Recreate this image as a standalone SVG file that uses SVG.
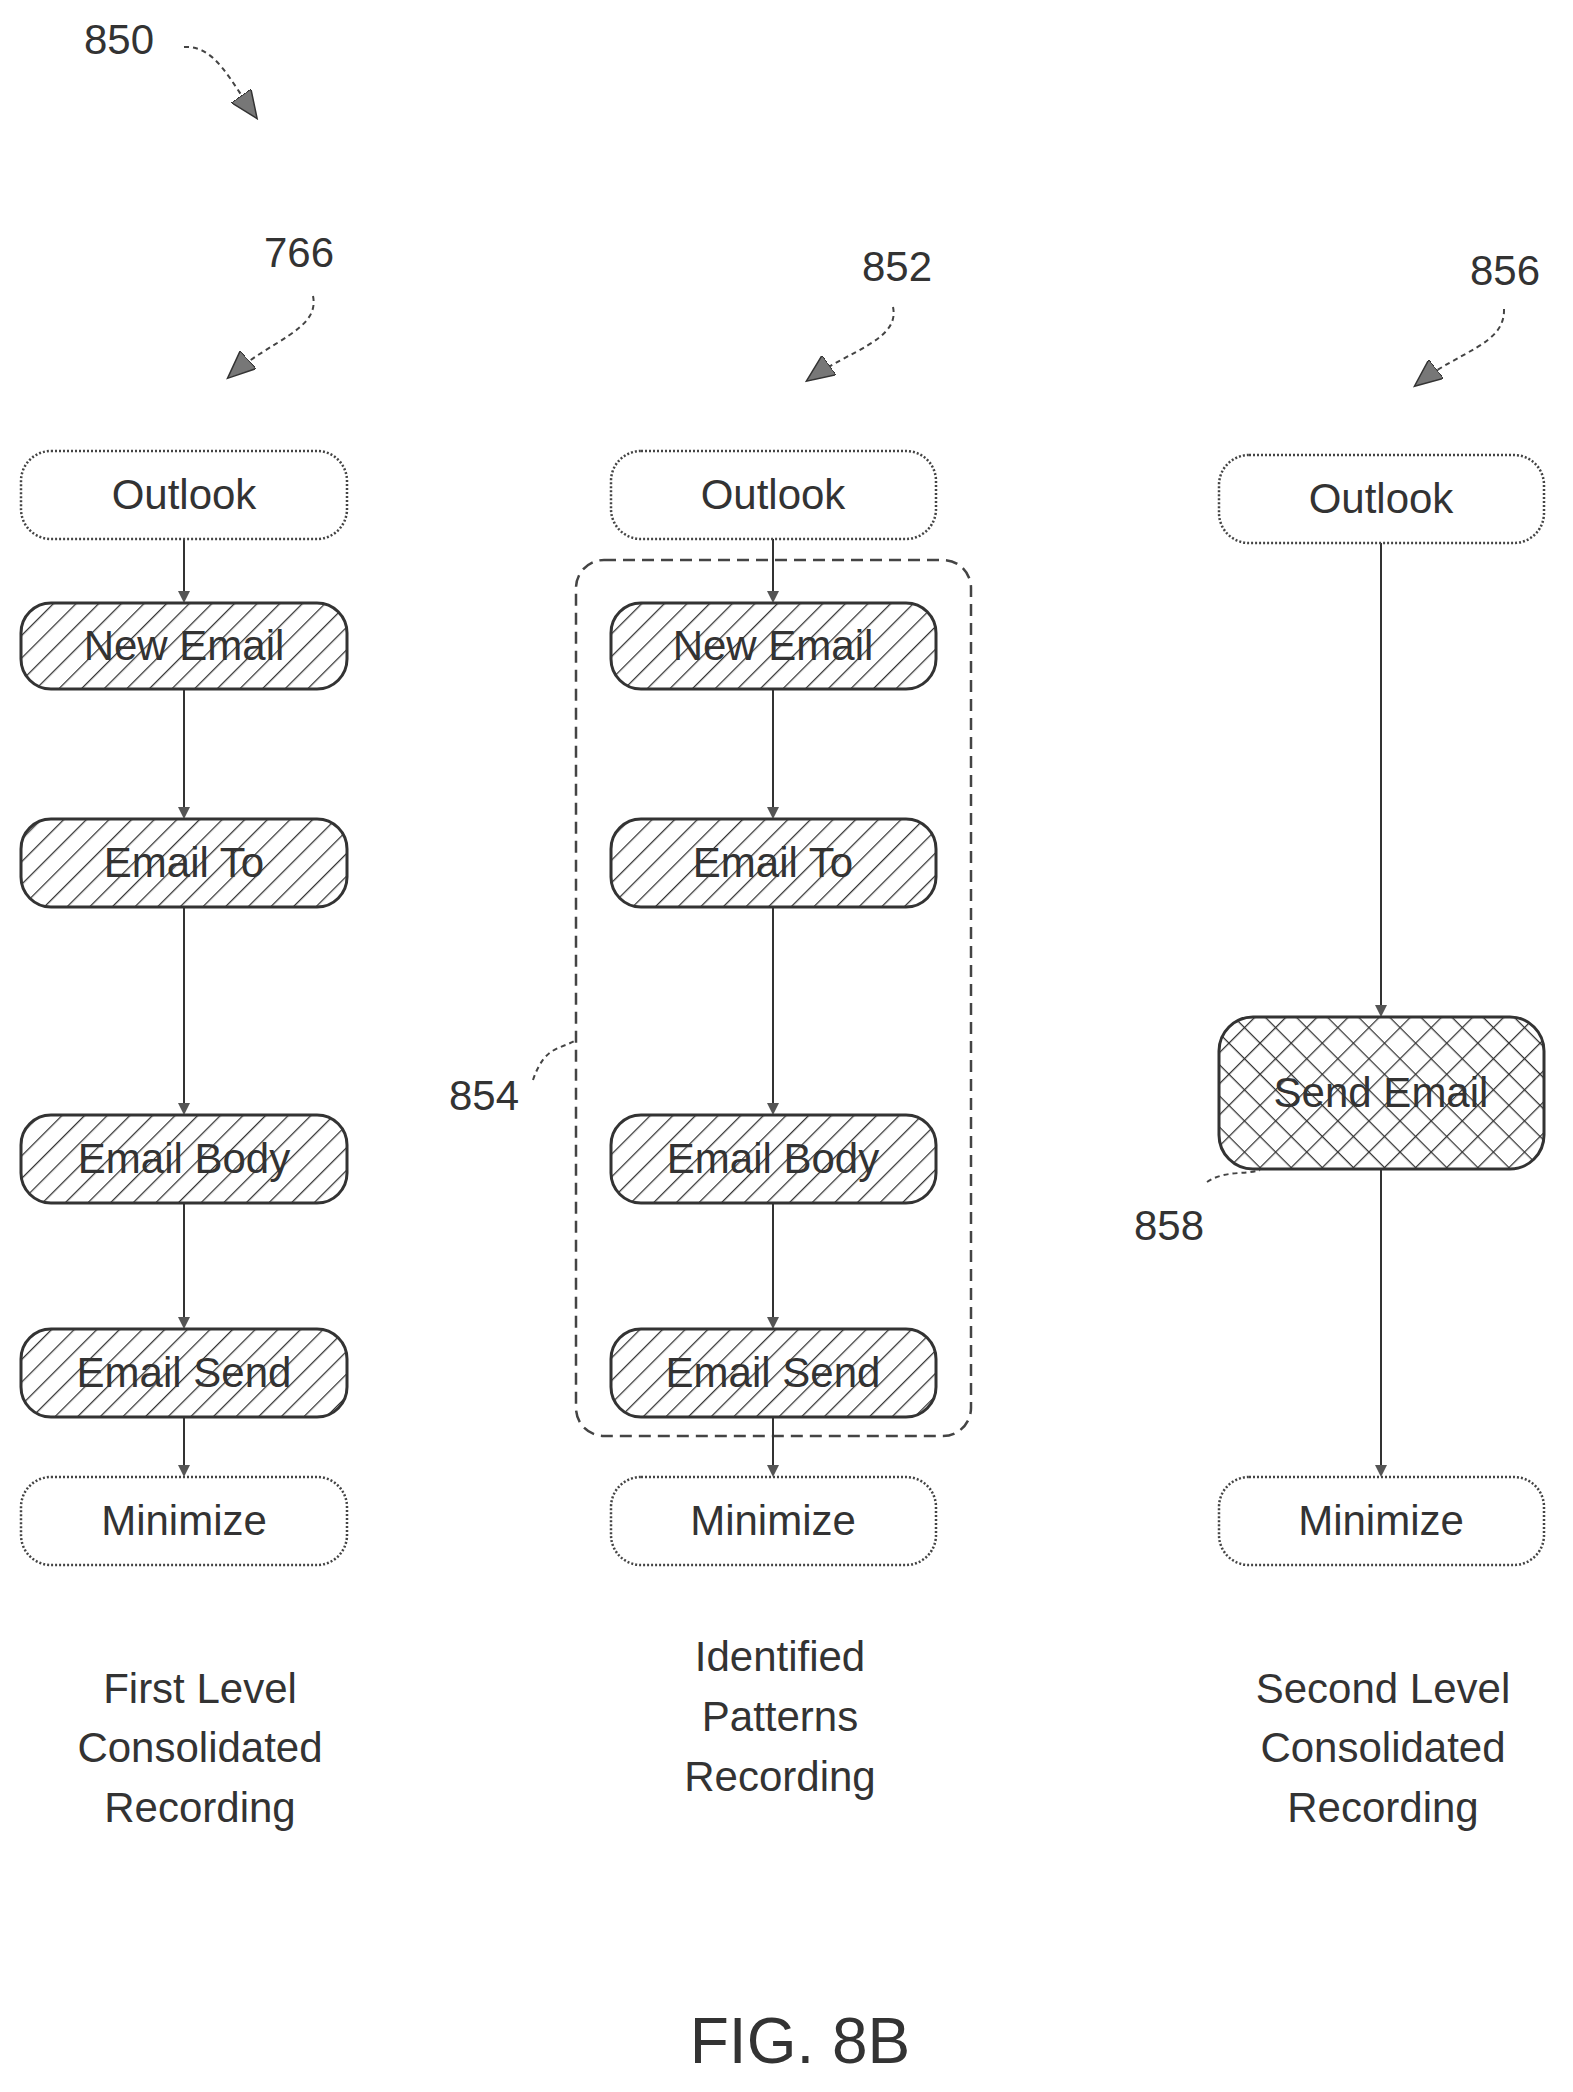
<svg xmlns="http://www.w3.org/2000/svg" width="1573" height="2092" viewBox="0 0 1573 2092">
<style>
.n{fill:#fff;stroke:#444;stroke-width:2.5;stroke-dasharray:2 2}
.h{fill:url(#hatch);stroke:#333;stroke-width:3}
.x{fill:url(#cross);stroke:#333;stroke-width:3}
.t{font-family:"Liberation Sans",Arial,sans-serif;font-size:42px;fill:#333;text-anchor:middle}
.l{font-family:"Liberation Sans",Arial,sans-serif;font-size:42px;fill:#333}
.c{stroke:#333;stroke-width:2;fill:none;marker-end:url(#ah)}
.d{stroke:#444;stroke-width:2;fill:none;stroke-dasharray:5 4}
</style>
<defs>
<pattern id="hatch" width="16" height="16" patternUnits="userSpaceOnUse" patternTransform="rotate(45)"><rect width="16" height="16" fill="#fff"/><line x1="0" y1="0" x2="0" y2="16" stroke="#333" stroke-width="2.5"/></pattern>
<pattern id="cross" width="22" height="22" patternUnits="userSpaceOnUse" patternTransform="rotate(45)"><rect width="22" height="22" fill="#fff"/><line x1="0" y1="0" x2="0" y2="22" stroke="#333" stroke-width="2.5"/><line x1="0" y1="0" x2="22" y2="0" stroke="#333" stroke-width="2.5"/></pattern>
<marker id="ah" markerWidth="12" markerHeight="12" refX="10" refY="6" orient="auto" markerUnits="userSpaceOnUse"><path d="M0,0 L12,6 L0,12 Z" fill="#555"/></marker>
<marker id="big" markerWidth="30" markerHeight="24" refX="26" refY="12" orient="auto" markerUnits="userSpaceOnUse"><path d="M0,0 L28,12 L0,24 Z" fill="#777" stroke="#333" stroke-width="1.5"/></marker>
</defs>
<g id="labels">
<text class="l" x="84" y="54">850</text>
<text class="l" x="264" y="267">766</text>
<text class="l" x="862" y="281">852</text>
<text class="l" x="1470" y="285">856</text>
<text class="l" x="449" y="1110">854</text>
<text class="l" x="1134" y="1240">858</text>
</g>
<g id="leaders">
<path class="d" d="M184,47 C215,45 230,80 256,117" marker-end="url(#big)"/>
<path class="d" d="M313,296 C320,330 270,340 229,377" marker-end="url(#big)"/>
<path class="d" d="M893,307 C900,340 850,350 808,380" marker-end="url(#big)"/>
<path class="d" d="M1504,309 C1505,345 1460,350 1416,385" marker-end="url(#big)"/>
<path class="d" d="M533,1080 C545,1045 560,1050 576,1040"/>
<path class="d" d="M1207,1182 C1225,1170 1245,1175 1260,1170"/>
</g>
<g id="group854"><rect x="576" y="560" width="395" height="876" rx="28" fill="none" stroke="#444" stroke-width="2.5" stroke-dasharray="12 7"/></g>
<g id="connectors">
<path class="c" d="M184,539 V601"/><path class="c" d="M184,689 V817"/><path class="c" d="M184,907 V1113"/><path class="c" d="M184,1203 V1327"/><path class="c" d="M184,1417 V1475"/>
<path class="c" d="M773,539 V601"/><path class="c" d="M773,689 V817"/><path class="c" d="M773,907 V1113"/><path class="c" d="M773,1203 V1327"/><path class="c" d="M773,1417 V1475"/>
<path class="c" d="M1381,543 V1015"/><path class="c" d="M1381,1169 V1475"/>
</g>
<g id="c1_outlook"><rect class="n" x="21" y="451" width="326" height="88" rx="30"/><text class="t" x="184" y="509">Outlook</text></g>
<g id="c1_new"><rect class="h" x="21" y="603" width="326" height="86" rx="30"/><text class="t" x="184" y="660">New Email</text></g>
<g id="c1_to"><rect class="h" x="21" y="819" width="326" height="88" rx="30"/><text class="t" x="184" y="877">Email To</text></g>
<g id="c1_body"><rect class="h" x="21" y="1115" width="326" height="88" rx="30"/><text class="t" x="184" y="1173">Email Body</text></g>
<g id="c1_send"><rect class="h" x="21" y="1329" width="326" height="88" rx="30"/><text class="t" x="184" y="1387">Email Send</text></g>
<g id="c1_min"><rect class="n" x="21" y="1477" width="326" height="88" rx="30"/><text class="t" x="184" y="1535">Minimize</text></g>
<g id="c2_outlook"><rect class="n" x="611" y="451" width="325" height="88" rx="30"/><text class="t" x="773" y="509">Outlook</text></g>
<g id="c2_new"><rect class="h" x="611" y="603" width="325" height="86" rx="30"/><text class="t" x="773" y="660">New Email</text></g>
<g id="c2_to"><rect class="h" x="611" y="819" width="325" height="88" rx="30"/><text class="t" x="773" y="877">Email To</text></g>
<g id="c2_body"><rect class="h" x="611" y="1115" width="325" height="88" rx="30"/><text class="t" x="773" y="1173">Email Body</text></g>
<g id="c2_send"><rect class="h" x="611" y="1329" width="325" height="88" rx="30"/><text class="t" x="773" y="1387">Email Send</text></g>
<g id="c2_min"><rect class="n" x="611" y="1477" width="325" height="88" rx="30"/><text class="t" x="773" y="1535">Minimize</text></g>
<g id="c3_outlook"><rect class="n" x="1219" y="455" width="325" height="88" rx="30"/><text class="t" x="1381" y="513">Outlook</text></g>
<g id="c3_send"><rect class="x" x="1219" y="1017" width="325" height="152" rx="34"/><text class="t" x="1381" y="1107">Send Email</text></g>
<g id="c3_min"><rect class="n" x="1219" y="1477" width="325" height="88" rx="30"/><text class="t" x="1381" y="1535">Minimize</text></g>
<g id="captions">
<text class="t" x="200" y="1703">First Level</text><text class="t" x="200" y="1762">Consolidated</text><text class="t" x="200" y="1822">Recording</text>
<text class="t" x="780" y="1671">Identified</text><text class="t" x="780" y="1731">Patterns</text><text class="t" x="780" y="1791">Recording</text>
<text class="t" x="1383" y="1703">Second Level</text><text class="t" x="1383" y="1762">Consolidated</text><text class="t" x="1383" y="1822">Recording</text>
<text class="t" x="800" y="2063" style="font-size:64px">FIG. 8B</text>
</g>
</svg>
